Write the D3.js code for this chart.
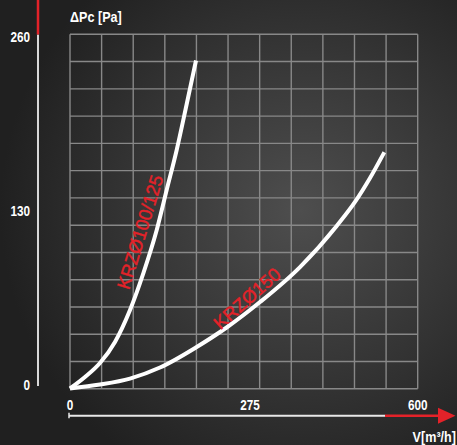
<!DOCTYPE html>
<html><head><meta charset="utf-8">
<script src="https://cdn.jsdelivr.net/npm/d3@7"></script>
<style>html,body{margin:0;padding:0;background:#222;}svg{display:block;}</style>
</head><body>
<script>
// ---- data ----
const xTicks = [0, 275, 600];
const yTicks = [0, 130, 260];
const xTitle = "V[m³/h]";
const yTitle = "ΔPc [Pa]";
const seriesNames = ["KRZØ100/125", "KRZØ150"];
const s1x = [0, 22.9, 45.8, 68.75, 91.7, 112.0, 132.5, 147.7, 163.0, 178.0, 192.5];
const s1y = [0, 8.4, 18.7, 34.2, 57.7, 84.6, 116.4, 145.8, 175.2, 208.2, 240.9];
const s2x = [0, 45.8, 91.7, 137.5, 193.6, 239.3, 294.4, 371.9, 443.0, 478.5, 507.6, 535.3];
const s2y = [0, 2.9, 7.3, 15.4, 30.5, 44.8, 63.5, 89.2, 119.4, 137.0, 154.6, 173.5];
const gridCols = 11, gridRows = 13;

// ---- layout ----
const W = 457, H = 445;
const RED = "#e42229";
const font = "'Liberation Sans','Arial',sans-serif";
const SX = 0.84; // horizontal condensing for axis texts
const x = d3.scaleLinear().domain([0, 275, 600]).range([70, 250, 417.7]);
const y = d3.scaleLinear().domain([0, 260]).range([388.5, 34.5]);
const yLab = d3.scaleLinear().domain([0, 260]).range([390, 42]);
const gx = d3.scaleLinear().domain([0, gridCols]).range([70, 417.7]);
const gy = d3.scaleLinear().domain([0, gridRows]).range([388.8, 34.3]);

const svg = d3.select("body").append("svg").attr("width", W).attr("height", H);
const defs = svg.append("defs");
const rg = defs.append("radialGradient").attr("id", "bg").attr("gradientUnits", "userSpaceOnUse")
  .attr("cx", 300).attr("cy", 210).attr("r", 300);
rg.append("stop").attr("offset", "0").attr("stop-color", "#4e4e4e");
rg.append("stop").attr("offset", "0.55").attr("stop-color", "#353535");
rg.append("stop").attr("offset", "1").attr("stop-color", "#202020");
svg.append("rect").attr("width", W).attr("height", H).attr("fill", "url(#bg)");

// grid
const g = svg.append("g").attr("stroke", "#888").attr("stroke-width", 1.4);
g.selectAll("line.v").data(d3.range(gridCols + 1)).join("line")
  .attr("x1", d => gx(d)).attr("x2", d => gx(d)).attr("y1", gy(0)).attr("y2", gy(gridRows));
g.selectAll("line.h").data(d3.range(gridRows + 1)).join("line")
  .attr("y1", d => gy(d)).attr("y2", d => gy(d)).attr("x1", gx(0)).attr("x2", gx(gridCols));

// y axis line
svg.append("line").attr("x1", 38).attr("x2", 38).attr("y1", y(260)).attr("y2", 386)
  .attr("stroke", "#d8d8d8").attr("stroke-width", 2);
svg.append("line").attr("x1", 38).attr("x2", 38).attr("y1", 0).attr("y2", y(260))
  .attr("stroke", RED).attr("stroke-width", 2.5);

// x axis line
const axY = 415.7;
svg.append("line").attr("x1", x(0) - 1).attr("x2", 385).attr("y1", axY).attr("y2", axY)
  .attr("stroke", "#e8e8e8").attr("stroke-width", 2);
svg.append("line").attr("x1", x(0) - 1).attr("x2", x(0) - 1).attr("y1", axY - 3).attr("y2", axY + 2.5)
  .attr("stroke", "#e8e8e8").attr("stroke-width", 1.5);
svg.append("line").attr("x1", 385).attr("x2", 440).attr("y1", axY).attr("y2", axY)
  .attr("stroke", RED).attr("stroke-width", 2.5);
svg.append("path").attr("d", `M438,${axY - 8}L455.5,${axY}L438,${axY + 8}Z`).attr("fill", RED);

function cText(sel, px, py, anchor, size) {
  return sel.append("text")
    .attr("transform", `translate(${px},${py}) scale(${SX},1)`)
    .attr("text-anchor", anchor).attr("fill", "#fff")
    .attr("font-family", font).attr("font-weight", "bold").attr("font-size", size);
}

// tick labels
yTicks.forEach(d => cText(svg, 30, yLab(d), "end", 14).text(d));
xTicks.forEach(d => cText(svg, x(d), 409.5, "middle", 14).text(d));

// titles
cText(svg, 70, 21.5, "start", 15).text(yTitle);
cText(svg, 456, 441.5, "end", 15).text(xTitle);

// curves
const line = d3.line().x(d => x(d[0])).y(d => y(d[1])).curve(d3.curveMonotoneX);
const series = [d3.zip(s1x, s1y), d3.zip(s2x, s2y)];
svg.selectAll("path.curve").data(series).join("path")
  .attr("d", line).attr("fill", "none").attr("stroke", "#fff").attr("stroke-width", 4);

// curve labels
const labels = [
  {name: seriesNames[0], cx: 140, cy: 232, a: -73},
  {name: seriesNames[1], cx: 247, cy: 298.5, a: -41.5}
];
svg.selectAll("text.lab").data(labels).join("text")
  .attr("transform", d => `translate(${d.cx},${d.cy}) rotate(${d.a})`)
  .attr("text-anchor", "middle").attr("dominant-baseline", "central")
  .attr("fill", RED).attr("stroke", RED).attr("stroke-width", 0.4)
  .attr("font-family", "'Liberation Sans','DejaVu Sans',sans-serif")
  .attr("font-size", 18.5).text(d => d.name);
</script>
</body></html>
